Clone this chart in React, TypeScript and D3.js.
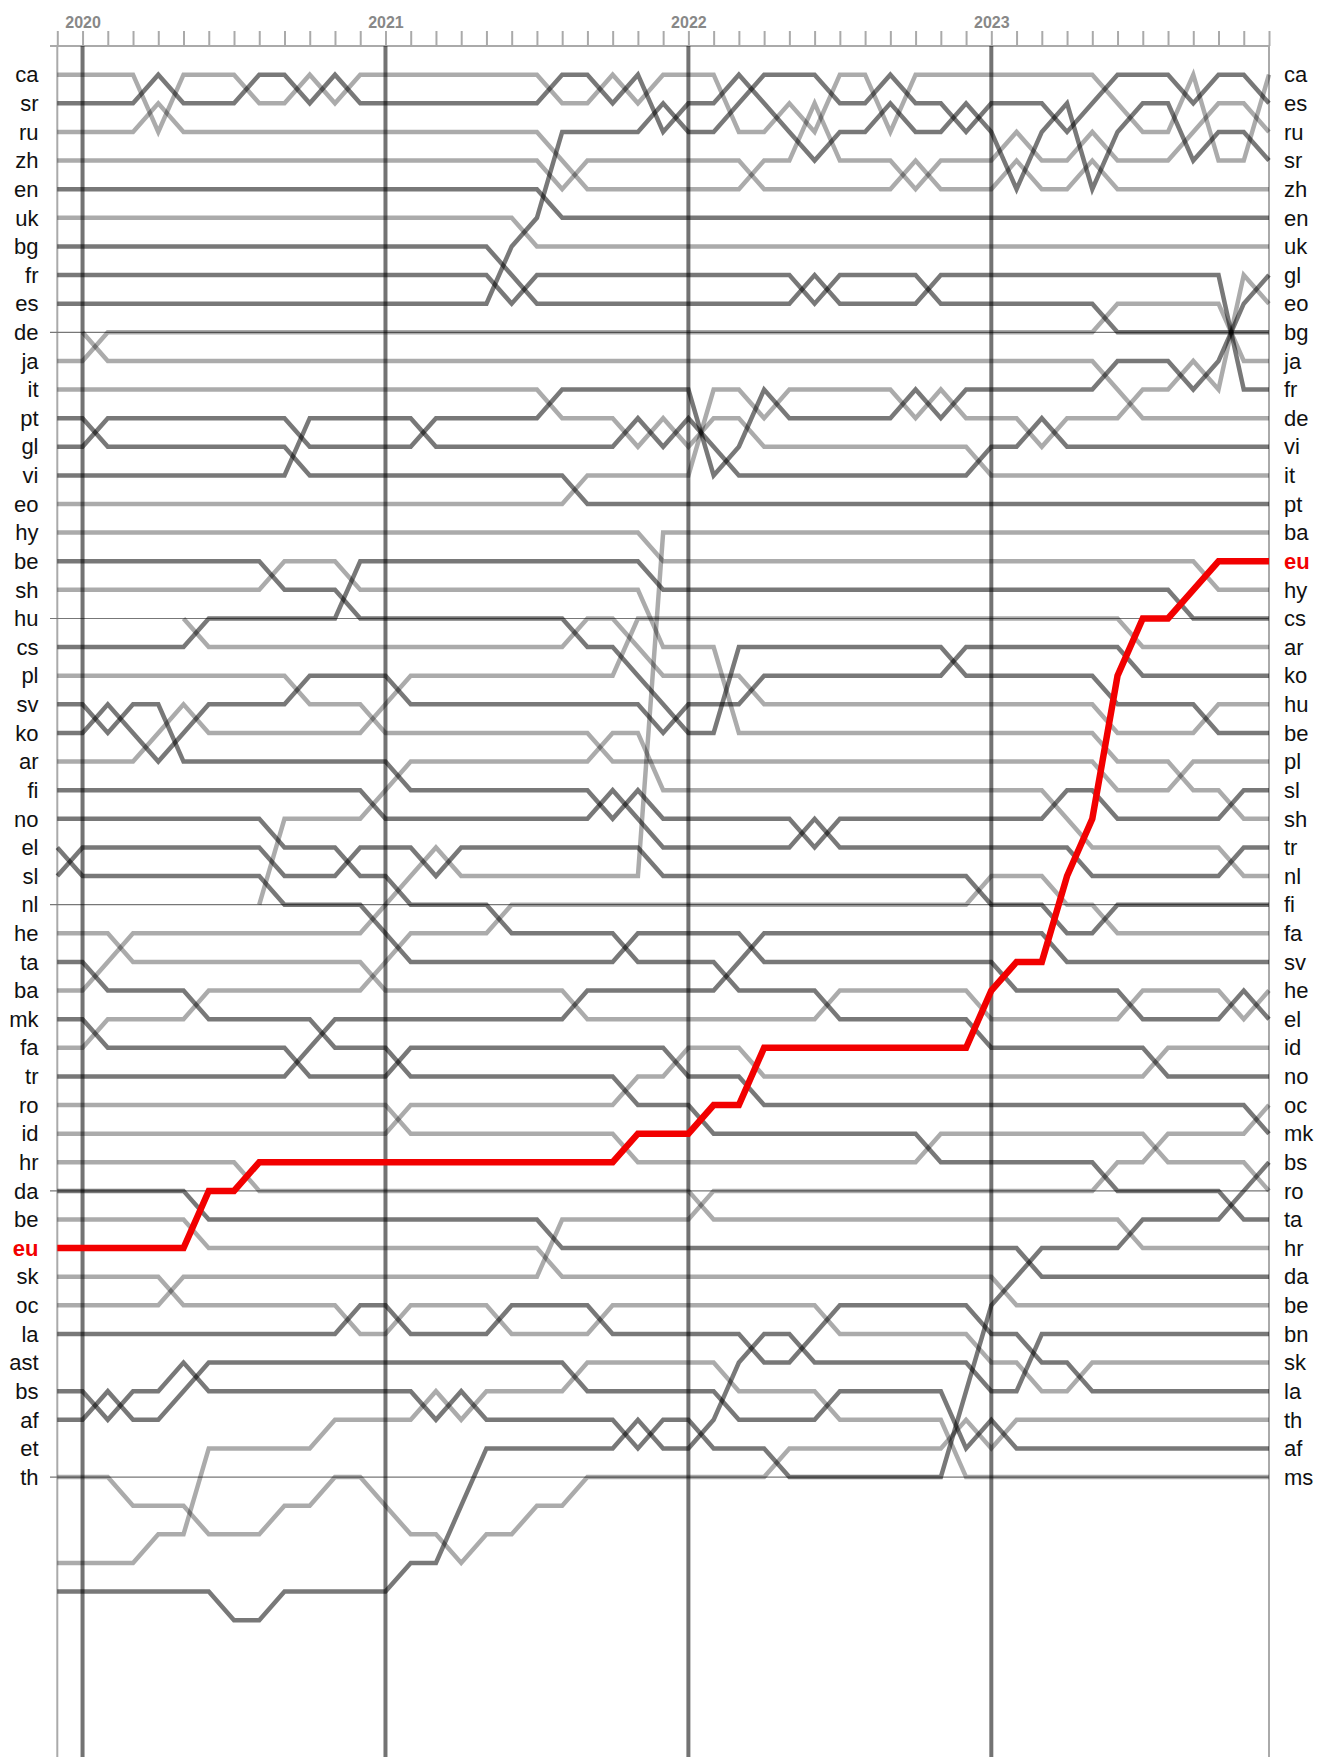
import React, { useEffect, useRef } from 'react';
import * as d3 from 'd3';

// months: index 0 = Dec 2019 ... index 48 = Dec 2023
const monthCount = 49;
const yearStarts = [1, 13, 25, 37];
const yearNames = ['2020', '2021', '2022', '2023'];
const gridRanks = [10, 20, 30, 40, 50];

// rank labels at the first and the last month (rank 1 first)
const leftLabels = [
  'ca', 'sr', 'ru', 'zh', 'en', 'uk', 'bg', 'fr', 'es', 'de', 'ja', 'it', 'pt', 'gl', 'vi', 'eo', 'hy',
  'be', 'sh', 'hu', 'cs', 'pl', 'sv', 'ko', 'ar', 'fi', 'no', 'el', 'sl', 'nl', 'he', 'ta', 'ba', 'mk',
  'fa', 'tr', 'ro', 'id', 'hr', 'da', 'be', 'eu', 'sk', 'oc', 'la', 'ast', 'bs', 'af', 'et', 'th',
];
const rightLabels = [
  'ca', 'es', 'ru', 'sr', 'zh', 'en', 'uk', 'gl', 'eo', 'bg', 'ja', 'fr', 'de', 'vi', 'it', 'pt', 'ba',
  'eu', 'hy', 'cs', 'ar', 'ko', 'hu', 'be', 'pl', 'sl', 'sh', 'tr', 'nl', 'fi', 'fa', 'sv', 'he', 'el',
  'id', 'no', 'oc', 'mk', 'bs', 'ro', 'ta', 'hr', 'da', 'be', 'bn', 'sk', 'la', 'th', 'af', 'ms',
];
const highlight = 'eu';

// one entry per drawn line: L = light grey, D = dark grey, R = highlighted
const lineTones = [
  'L', 'D', 'L', 'L', 'D', 'L', 'D', 'D', 'D', 'L', 'L', 'L', 'D', 'D', 'D', 'L', 'L',
  'D', 'L', 'L', 'D', 'L', 'D', 'D', 'L', 'D', 'D', 'D', 'D', 'L', 'L', 'D', 'L', 'D',
  'L', 'D', 'L', 'L', 'L', 'D', 'L', 'R', 'L', 'L', 'D', 'D', 'D', 'L', 'L', 'D',
];

// rank changes per line: month, rank, month, rank ... (the rank holds until the next change)
const rankChanges = [
  [0, 1, 4, 3, 5, 1, 8, 2, 10, 1, 11, 2, 12, 1, 20, 2, 22, 1, 23, 2, 24, 1, 27, 3, 29, 2, 30, 3, 31, 1, 33, 3, 34, 1, 42, 2, 43, 3, 45, 1, 46, 4, 48, 1], // ca
  [0, 2, 4, 1, 5, 2, 8, 1, 10, 2, 11, 1, 12, 2, 20, 1, 22, 2, 23, 1, 24, 3, 25, 2, 27, 1, 28, 2, 29, 3, 30, 4, 31, 3, 33, 2, 34, 3, 36, 2, 37, 3, 38, 5, 39, 3, 40, 2, 41, 5, 42, 3, 43, 2, 45, 4, 46, 3, 48, 4], // sr
  [0, 3, 4, 2, 5, 3, 20, 4, 21, 5, 28, 4, 30, 2, 31, 4, 34, 5, 35, 4, 38, 3, 39, 4, 41, 3, 42, 4, 45, 3, 46, 2, 48, 3], // ru
  [0, 4, 20, 5, 21, 4, 28, 5, 34, 4, 35, 5, 38, 4, 39, 5, 41, 4, 42, 5], // zh
  [0, 5, 20, 6], // en
  [0, 6, 19, 7], // uk
  [0, 7, 18, 8, 19, 9, 30, 8, 31, 9, 35, 8, 47, 12], // bg
  [0, 8, 18, 9, 19, 8, 30, 9, 31, 8, 35, 9, 42, 10], // fr
  [0, 9, 18, 7, 19, 6, 20, 3, 24, 2, 25, 3, 27, 2, 28, 1, 31, 2, 33, 1, 34, 2, 36, 3, 37, 2, 40, 3, 41, 2, 42, 1, 45, 2, 46, 1, 48, 2], // es
  [1, 10, 2, 11, 42, 12, 43, 13], // de
  [0, 11, 2, 10, 42, 9, 47, 11], // ja
  [0, 12, 20, 13, 23, 14, 24, 13, 25, 14, 26, 13, 28, 14, 37, 15], // it
  [0, 13, 2, 14, 10, 15, 21, 16], // pt
  [0, 14, 2, 13, 10, 14, 15, 13, 20, 12, 26, 15, 27, 14, 28, 12, 29, 13, 34, 12, 35, 13, 36, 12, 42, 11, 45, 12, 46, 11, 47, 9, 48, 8], // gl
  [0, 15, 10, 13, 15, 14, 23, 13, 24, 14, 25, 13, 26, 14, 27, 15, 37, 14, 39, 13, 40, 14], // vi
  [0, 16, 21, 15, 26, 12, 28, 13, 29, 12, 34, 13, 35, 12, 36, 13, 39, 14, 40, 13, 43, 12, 45, 11, 46, 12, 47, 8, 48, 9], // eo
  [0, 17, 24, 18, 46, 19], // hy
  [0, 18, 9, 19, 12, 20, 21, 21, 23, 22, 24, 23, 25, 24, 27, 21, 36, 22, 42, 23, 46, 24], // be
  [0, 19, 9, 18, 12, 19, 24, 21, 27, 24, 42, 25, 45, 26, 47, 27], // sh
  [5, 20, 6, 21, 21, 20, 23, 21, 24, 22, 28, 23, 42, 24, 46, 23], // hu
  [0, 21, 6, 20, 12, 18, 24, 19, 45, 20], // cs
  [0, 22, 10, 23, 13, 24, 22, 25, 42, 26, 45, 25], // pl
  [0, 23, 2, 24, 3, 23, 5, 25, 14, 26, 22, 27, 23, 26, 24, 27, 30, 28, 31, 27, 40, 26, 42, 27, 47, 26], // sv
  [0, 24, 2, 23, 3, 24, 4, 25, 5, 24, 6, 23, 10, 22, 14, 23, 24, 24, 25, 23, 28, 22, 36, 21, 43, 22], // ko
  [0, 25, 4, 24, 5, 23, 6, 24, 13, 23, 14, 22, 23, 20, 43, 21], // ar
  [0, 26, 13, 27, 22, 26, 23, 27, 24, 28, 30, 27, 31, 28, 41, 29, 47, 28], // fi
  [0, 27, 9, 28, 12, 29, 14, 30, 18, 31, 23, 32, 27, 33, 31, 34, 37, 35, 44, 36], // no
  [0, 28, 1, 29, 9, 30, 13, 31, 14, 32, 23, 31, 28, 32, 38, 33, 43, 34, 47, 33, 48, 34], // el
  [0, 29, 1, 28, 9, 29, 12, 28, 15, 29, 16, 28, 24, 29, 37, 30, 40, 31, 42, 30], // sl
  [8, 30, 9, 27, 13, 26, 14, 25, 22, 24, 24, 26, 40, 27, 41, 28, 47, 29], // nl
  [0, 31, 3, 32, 13, 33, 21, 34, 31, 33, 37, 34, 43, 33, 47, 34, 48, 33], // he
  [0, 32, 2, 33, 6, 34, 11, 35, 14, 36, 23, 37, 26, 38, 35, 39, 42, 40, 47, 41], // ta
  [0, 33, 2, 32, 3, 31, 13, 30, 14, 29, 15, 28, 16, 29, 24, 17], // ba
  [0, 34, 2, 35, 10, 36, 14, 35, 25, 36, 28, 37, 48, 38], // mk
  [0, 35, 2, 34, 6, 33, 13, 32, 14, 31, 18, 30, 37, 29, 40, 30, 42, 31], // fa
  [0, 36, 10, 35, 11, 34, 21, 33, 27, 32, 28, 31, 40, 32], // tr
  [0, 37, 14, 38, 23, 39, 35, 38, 44, 39, 48, 40], // ro
  [0, 38, 14, 37, 23, 36, 25, 35, 28, 36, 44, 35], // id
  [0, 39, 8, 40, 26, 41, 43, 42], // hr
  [0, 40, 6, 41, 20, 42, 39, 43], // da
  [0, 41, 6, 42, 20, 43, 38, 44], // be
  [0, 42, 6, 40, 8, 39, 23, 38, 26, 37, 28, 35, 37, 33, 38, 32, 40, 29, 41, 27, 42, 22, 43, 20, 45, 19, 46, 18], // eu
  [0, 43, 5, 44, 12, 45, 14, 44, 18, 45, 22, 44, 31, 45, 37, 46, 39, 47, 41, 46], // sk
  [0, 44, 5, 43, 20, 41, 26, 40, 42, 39, 44, 38, 48, 37], // oc
  [0, 45, 12, 44, 14, 45, 18, 44, 22, 45, 28, 46, 30, 45, 31, 44, 37, 45, 39, 46, 41, 47], // la
  [0, 47, 2, 48, 3, 47, 5, 46, 6, 47, 15, 48, 16, 47, 17, 48, 23, 49, 24, 48, 26, 49, 29, 50, 36, 47, 37, 44, 38, 43, 39, 42, 43, 41, 47, 40, 48, 39], // bs
  [0, 48, 2, 47, 3, 48, 5, 47, 6, 46, 21, 47, 27, 48, 31, 47, 36, 49, 37, 48, 38, 49], // af
  [0, 50, 3, 51, 6, 52, 9, 51, 11, 50, 13, 51, 14, 52, 16, 53, 17, 52, 19, 51, 21, 50, 29, 49, 36, 48, 37, 49, 38, 48], // th
  [0, 53, 4, 52, 6, 49, 11, 48, 15, 47, 16, 48, 17, 47, 21, 46, 27, 47, 31, 48, 36, 50], // ms
  [0, 54, 7, 55, 9, 54, 14, 53, 16, 51, 17, 49, 23, 48, 24, 49, 26, 48, 27, 46, 28, 45, 30, 46, 37, 47, 39, 45], // bn
];

const toneColor: Record<string, string> = {
  L: 'rgba(0,0,0,0.33)',
  D: 'rgba(0,0,0,0.53)',
  R: '#f20000',
};

const font = '"Liberation Sans", Arial, sans-serif';

const App: React.FC = () => {
  const svgRef = useRef<SVGSVGElement>(null);

  useEffect(() => {
    const svg = d3.select(svgRef.current);
    svg.selectAll('*').remove();

    const width = 1317;
    const height = 1757;
    const axisY = 46;

    const x = d3.scaleLinear().domain([0, monthCount - 1]).range([57.3, 1269]);
    const y = d3.scaleLinear().domain([1, 55]).range([74.7, 74.7 + 54 * 28.62]);

    svg.attr('width', width).attr('height', height);

    // expand change lists into a rank per month
    const series = rankChanges.map((ch, k) => {
      const ranks: (number | null)[] = [];
      let cur: number | null = null;
      let p = 0;
      for (let i = 0; i < monthCount; i++) {
        while (p < ch.length && ch[p] <= i) {
          cur = ch[p + 1] || null;
          p += 2;
        }
        ranks.push(cur);
      }
      return { tone: lineTones[k], ranks };
    });

    // frame
    [0, monthCount - 1].forEach((m) => {
      svg.append('line')
        .attr('x1', x(m)).attr('x2', x(m))
        .attr('y1', axisY).attr('y2', height)
        .attr('stroke', '#aaa').attr('stroke-width', 2);
    });

    svg.append('line')
      .attr('x1', 50).attr('x2', x(monthCount - 1))
      .attr('y1', axisY).attr('y2', axisY)
      .attr('stroke', '#aaa').attr('stroke-width', 2);

    const axis = d3.axisTop(x)
      .tickValues(d3.range(monthCount))
      .tickSize(15)
      .tickPadding(3)
      .tickFormat((d) => {
        const k = yearStarts.indexOf(+d);
        return k >= 0 ? yearNames[k] : '';
      });

    const gAxis = svg.append('g').attr('transform', `translate(0,${axisY})`).call(axis);
    gAxis.select('.domain').remove();
    gAxis.selectAll('.tick line').attr('stroke', '#aaa').attr('stroke-width', 2);
    gAxis.selectAll('.tick text')
      .attr('fill', '#888')
      .style('font-family', font)
      .style('font-size', '16px')
      .style('font-weight', 'bold');

    // rank grid every 10 places
    gridRanks.forEach((r) => {
      svg.append('line')
        .attr('x1', 50).attr('x2', x(monthCount - 1))
        .attr('y1', y(r)).attr('y2', y(r))
        .attr('stroke', '#777').attr('stroke-width', 1.2);
    });

    // year lines
    yearStarts.forEach((m) => {
      svg.append('line')
        .attr('x1', x(m)).attr('x2', x(m))
        .attr('y1', axisY).attr('y2', height)
        .attr('stroke', 'rgba(0,0,0,0.55)').attr('stroke-width', 4);
    });

    const line = d3.line<number | null>()
      .defined((d) => d !== null)
      .x((_, i) => x(i))
      .y((d) => y(d as number));

    const ordered = [...series.filter((s) => s.tone !== 'R'), ...series.filter((s) => s.tone === 'R')];

    ordered.forEach((s) => {
      svg.append('path')
        .datum(s.ranks)
        .attr('fill', 'none')
        .attr('stroke', toneColor[s.tone])
        .attr('stroke-width', s.tone === 'R' ? 6.5 : 4.5)
        .attr('d', line);
    });

    // rank labels on both sides
    const addLabel = (name: string, xPos: number, rank: number, anchor: string) => {
      const isHi = name === highlight;
      svg.append('text')
        .attr('x', xPos)
        .attr('y', y(rank))
        .attr('dy', '0.35em')
        .attr('text-anchor', anchor)
        .attr('fill', isHi ? '#f20000' : '#111')
        .style('font-family', font)
        .style('font-size', '22px')
        .style('font-weight', isHi ? 'bold' : 'normal')
        .text(name);
    };

    leftLabels.forEach((name, k) => addLabel(name, 38.5, k + 1, 'end'));
    rightLabels.forEach((name, k) => addLabel(name, 1284, k + 1, 'start'));
  }, []);

  return (
    <div style={{ position: 'absolute', left: 0, top: 0 }}>
      <svg ref={svgRef} style={{ display: 'block' }}></svg>
    </div>
  );
};

export default App;
